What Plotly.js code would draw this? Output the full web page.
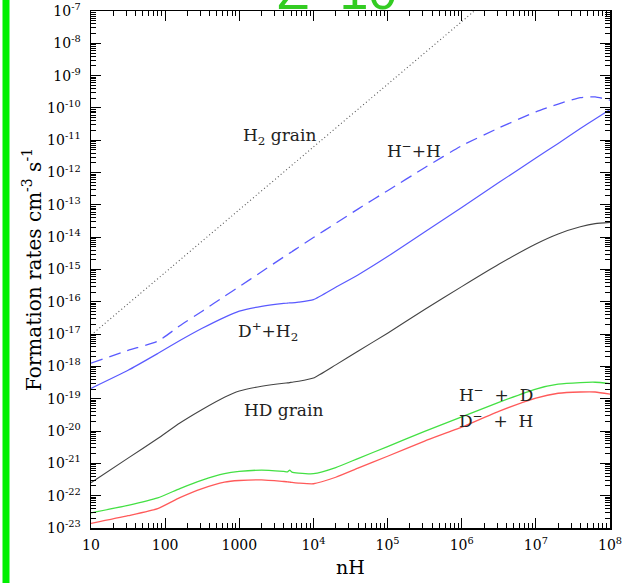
<!DOCTYPE html>
<html>
<head>
<meta charset="utf-8">
<script src="https://cdn.plot.ly/plotly-3.0.1.min.js"></script>
<style>
  html, body { margin: 0; padding: 0; background: #fff; }
  #chart { width: 626px; height: 583px; }
</style>
</head>
<body>
<div id="chart"></div>
<script>
// ---- data ----
var nH = [10, 31.6, 79.4, 158, 316, 631, 1000, 2000, 3981, 4467, 4786, 5129, 6310,
          1e4, 2e4, 3.98e4, 1e5, 3.16e5, 1e6, 3.16e6, 1e7, 2e7, 3.98e7, 6.31e7, 1e8];

var rateHminusH = [1.26e-18, 3.16e-18, 6.0e-18, 1.82e-17, 5.13e-17, 1.48e-16, 2.95e-16, 8.51e-16,
                   2.45e-15, 2.88e-15, 3.24e-15, 3.55e-15, 4.90e-15,
                   9.77e-15, 2.69e-14, 7.41e-14, 2.75e-13, 1.41e-12, 6.76e-12, 2.40e-11, 7.59e-11,
                   1.32e-10, 2.09e-10, 2.19e-10, 1.74e-10];

var rateDplusH2 = [2.09e-19, 7.59e-19, 2.51e-18, 6.31e-18, 1.51e-17, 3.31e-17, 5.13e-17, 7.24e-17,
                   8.91e-17, 9.12e-17, 9.33e-17, 9.33e-17, 9.77e-17,
                   1.17e-16, 2.82e-16, 6.76e-16, 2.51e-15, 1.45e-14, 8.32e-14, 4.90e-13, 2.82e-12,
                   7.94e-12, 2.29e-11, 4.57e-11, 8.91e-11];

var rateHDgrain = [2.51e-22, 1.45e-21, 5.89e-21, 1.78e-20, 4.68e-20, 1.12e-19, 1.74e-19, 2.45e-19,
                   3.02e-19, 3.09e-19, 3.16e-19, 3.24e-19, 3.47e-19,
                   4.37e-19, 1.12e-18, 2.95e-18, 1.07e-17, 5.75e-17, 2.95e-16, 1.45e-15, 6.17e-15,
                   1.26e-14, 2.09e-14, 2.63e-14, 2.88e-14];

var rateHminusD = [2.95e-23, 5.01e-23, 8.51e-23, 1.66e-22, 3.02e-22, 4.79e-22, 5.62e-22, 6.17e-22,
                   5.62e-22, 5.50e-22, 6.17e-22, 5.37e-22, 5.01e-22,
                   4.79e-22, 7.41e-22, 1.41e-21, 3.31e-21, 9.77e-21, 2.75e-20, 7.76e-20, 2.00e-19,
                   2.82e-19, 3.16e-19, 3.24e-19, 2.95e-19];

var rateDminusH = [1.38e-23, 2.40e-23, 3.98e-23, 8.71e-23, 1.66e-22, 2.63e-22, 2.95e-22, 3.09e-22,
                   2.75e-22, 2.69e-22, 2.63e-22, 2.57e-22, 2.45e-22,
                   2.34e-22, 3.72e-22, 7.08e-22, 1.66e-21, 4.90e-21, 1.32e-20, 4.07e-20, 1.05e-19,
                   1.48e-19, 1.62e-19, 1.62e-19, 1.38e-19];

var nH_H2grain   = [10, 100, 1000, 1e4, 1e5, 1e6, 1e7];
var rateH2grain  = [9.3e-18, 8.1e-16, 7.1e-14, 6.2e-12, 5.4e-10, 4.7e-8, 4.1e-6];

var xTickVals = [10, 100, 1000, 1e4, 1e5, 1e6, 1e7, 1e8];
var xTickText = ['10', '100', '1000', '10<sup>4</sup>', '10<sup>5</sup>', '10<sup>6</sup>',
                 '10<sup>7</sup>', '10<sup>8</sup>'];
var yExponents = [-7, -8, -9, -10, -11, -12, -13, -14, -15, -16, -17, -18, -19, -20, -21, -22, -23];
var yTickVals = yExponents.map(function (e) { return Math.pow(10, e); });
var yTickText = yExponents.map(function (e) { return '10<sup>' + e + '</sup>'; });

var labels = ['H<sub>2</sub> grain', 'H<sup>\u2212</sup>+H', 'D<sup>+</sup>+H<sub>2</sub>', 'HD grain',
              'H<sup>\u2212</sup>  +  D', 'D<sup>\u2212</sup>  +  H'];

// ---- drawing ----
var SERIF = 'DejaVu Serif, Liberation Serif, serif';
function line(x, y, color, dash, width) {
  return { x: x, y: y, type: 'scatter', mode: 'lines',
           line: { color: color, width: width || 1.2, dash: dash || 'solid', shape: 'spline', smoothing: 0.5 },
           hoverinfo: 'skip', showlegend: false };
}
var traces = [
  line(nH_H2grain, rateH2grain, '#555555', '1px,2.6px', 1.1),
  line(nH, rateHminusH, '#5a5aff', '12px,7px', 1.3),
  line(nH, rateDplusH2, '#5a5aff', 'solid', 1.2),
  line(nH, rateHDgrain, '#444444', 'solid', 1.1),
  line(nH, rateHminusD, '#44e044', 'solid', 1.3),
  line(nH, rateDminusH, '#ff5a5a', 'solid', 1.3)
];

function lx(px) { return 1 + (px - 91) / 74.1; }       // pixel -> log10 x (annotation placement)
function ly(py) { return -7 - (py - 11) / 32.3; }      // pixel -> log10 y
var annPos = [[279, 136], [414, 150], [268, 331], [283, 410], [496, 394], [496, 420]];
var annotations = labels.map(function (t, i) {
  return { x: lx(annPos[i][0]), y: ly(annPos[i][1]), xref: 'x', yref: 'y', text: t, showarrow: false,
           xanchor: 'center', yanchor: 'middle', font: { family: SERIF, size: 17, color: '#222' } };
});

var layout = {
  width: 626, height: 583,
  margin: { l: 91, r: 16, t: 11, b: 55, pad: 0 },
  paper_bgcolor: '#ffffff', plot_bgcolor: '#ffffff',
  font: { family: SERIF, color: '#000' },
  title: { text: 'Z=10', font: { family: 'Liberation Sans, Arial, sans-serif', size: 52, color: '#33cc22' },
           x: 0.443, xanchor: 'left', xref: 'container', y: 1 - 9 / 583, yanchor: 'bottom', yref: 'container' },
  xaxis: {
    type: 'log', range: [1, 8], showgrid: false, zeroline: false,
    showline: true, linecolor: '#000', linewidth: 1.5, mirror: 'allticks',
    ticks: 'inside', ticklen: 10, tickwidth: 1, tickcolor: '#000',
    tickmode: 'array', tickvals: xTickVals, ticktext: xTickText,
    tickfont: { family: SERIF, size: 14, color: '#000' }, ticklabelstandoff: 4,
    minor: { ticks: 'inside', ticklen: 5, tickwidth: 1, tickcolor: '#000', dtick: 'D1', showgrid: false },
    title: { text: 'nH', font: { family: SERIF, size: 19, color: '#000' }, standoff: 8 }
  },
  yaxis: {
    type: 'log', range: [-23, -7], showgrid: false, zeroline: false,
    showline: true, linecolor: '#000', linewidth: 1.5, mirror: 'allticks',
    ticks: 'inside', ticklen: 10, tickwidth: 1, tickcolor: '#000',
    tickmode: 'array', tickvals: yTickVals, ticktext: yTickText,
    tickfont: { family: SERIF, size: 14, color: '#000' }, ticklabelstandoff: 6,
    minor: { ticks: 'inside', ticklen: 5, tickwidth: 1, tickcolor: '#000', dtick: 'D1', showgrid: false },
    title: { text: 'Formation rates cm<sup>-3</sup> s<sup>-1</sup>', font: { family: SERIF, size: 20, color: '#000' }, standoff: 0 }
  },
  shapes: [
    { type: 'rect', xref: 'paper', yref: 'paper', x0: (2.5 - 91) / 519, x1: (9.5 - 91) / 519,
      y0: -0.12, y1: 1.05, line: { width: 0 }, fillcolor: '#00f000', layer: 'above' }
  ],
  annotations: annotations
};

Plotly.newPlot('chart', traces, layout, { staticPlot: true, displayModeBar: false });
</script>
</body>
</html>
